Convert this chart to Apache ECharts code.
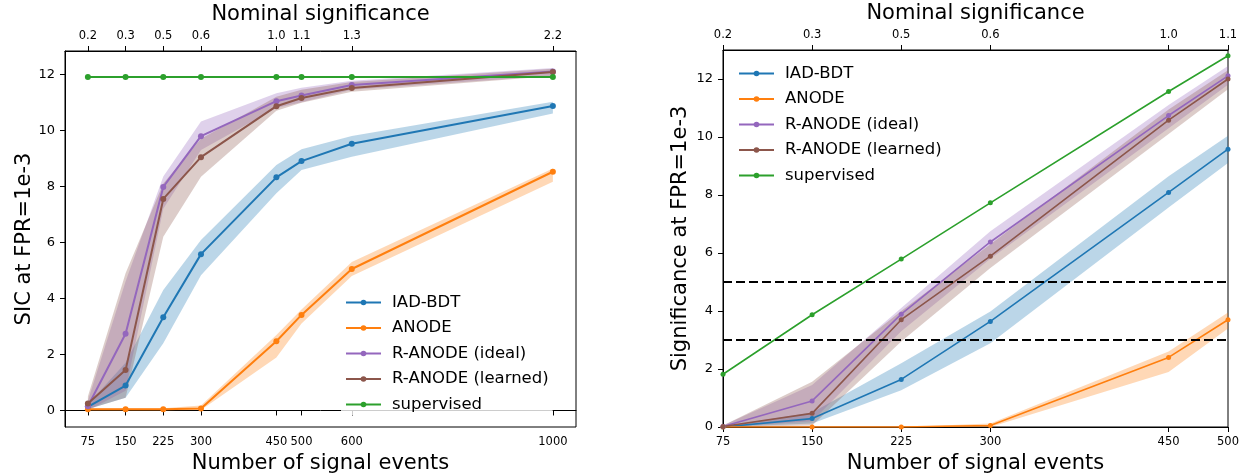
<!DOCTYPE html>
<html>
<head>
<meta charset="utf-8">
<script src="https://cdn.jsdelivr.net/npm/echarts@6/dist/echarts.min.js"></script>
<style>
  html, body { margin: 0; padding: 0; background: #fff; }
  #chart { width: 1246px; height: 475px; }
</style>
</head>
<body>
<div id="chart"></div>
<script>
// Signal counts and their nominal significance (top axes)
const N_LEFT = [75, 150, 225, 300, 450, 500, 600, 1000];
const NOMINAL_LEFT = ['0.2', '0.3', '0.5', '0.6', '1.0', '1.1', '1.3', '2.2'];
const N_RIGHT = [75, 150, 225, 300, 450, 500];
const NOMINAL_RIGHT = ['0.2', '0.3', '0.5', '0.6', '1.0', '1.1'];
const Y_TICKS = [0, 2, 4, 6, 8, 10, 12];

// Left panel: SIC at FPR=1e-3 (median with lower / upper band)
const sicIadBdt     = [0.13, 0.89, 3.33, 5.58, 8.32, 8.90, 9.52, 10.87];
const sicIadBdtLo   = [0.04, 0.45, 2.40, 4.83, 7.75, 8.58, 9.06, 10.60];
const sicIadBdtHi   = [0.22, 1.70, 4.30, 6.08, 8.76, 9.32, 9.80, 11.02];
const sicAnode      = [0.04, 0.04, 0.04, 0.07, 2.47, 3.41, 5.05, 8.52];
const sicAnodeLo    = [0.00, 0.00, 0.00, 0.02, 1.89, 3.10, 4.80, 8.16];
const sicAnodeHi    = [0.08, 0.08, 0.08, 0.18, 2.69, 3.60, 5.30, 8.64];
const sicIdeal      = [0.15, 2.74, 7.98, 9.79, 11.04, 11.24, 11.62, 12.10];
const sicIdealLo    = [0.00, 0.70, 7.20, 9.30, 10.80, 11.00, 11.45, 11.95];
const sicIdealHi    = [0.35, 4.60, 8.35, 10.31, 11.32, 11.52, 11.77, 12.22];
const sicLearned    = [0.25, 1.44, 7.55, 9.04, 10.86, 11.15, 11.51, 12.08];
const sicLearnedLo  = [0.05, 0.45, 6.20, 8.34, 10.70, 10.98, 11.38, 11.94];
const sicLearnedHi  = [0.50, 4.90, 8.10, 9.70, 11.20, 11.45, 11.72, 12.20];
const sicSupervised = [11.9, 11.9, 11.9, 11.9, 11.9, 11.9, 11.9, 11.9];

// Right panel: significance at FPR=1e-3
const sigIadBdt     = [0.00, 0.29, 1.64, 3.64, 8.09, 9.58];
const sigIadBdtLo   = [0.00, 0.12, 1.27, 2.89, 7.57, 9.10];
const sigIadBdtHi   = [0.02, 0.50, 2.20, 3.98, 8.65, 10.04];
const sigAnode      = [0.00, 0.00, 0.00, 0.05, 2.40, 3.70];
const sigAnodeLo    = [0.00, 0.00, 0.00, 0.00, 1.90, 3.40];
const sigAnodeHi    = [0.00, 0.00, 0.00, 0.12, 2.60, 3.95];
const sigIdeal      = [0.02, 0.90, 3.89, 6.38, 10.74, 12.11];
const sigIdealLo    = [0.00, 0.20, 3.30, 5.80, 10.30, 11.80];
const sigIdealHi    = [0.05, 1.45, 4.10, 6.75, 11.10, 12.45];
const sigLearned    = [0.02, 0.47, 3.70, 5.89, 10.58, 12.00];
const sigLearnedLo  = [0.00, 0.05, 2.95, 5.48, 10.10, 11.65];
const sigLearnedHi  = [0.05, 1.56, 4.00, 6.30, 10.95, 12.30];
const sigSupervised = [1.82, 3.87, 5.79, 7.73, 11.57, 12.80];
const THRESHOLDS = [5, 3];

const NAMES = ['IAD-BDT', 'ANODE', 'R-ANODE (ideal)', 'R-ANODE (learned)', 'supervised'];
const COLORS = {
  'IAD-BDT': '#1f77b4',
  'ANODE': '#ff7f0e',
  'R-ANODE (ideal)': '#9467bd',
  'R-ANODE (learned)': '#8c564b',
  'supervised': '#2ca02c'
};
const FONT = 'DejaVu Sans';

function line(name, xs, ys, axis, width, size) {
  return {
    type: 'line', name: name,
    xAxisIndex: axis.x, yAxisIndex: axis.y,
    data: xs.map((x, i) => [x, ys[i]]),
    symbol: 'circle', symbolSize: size,
    lineStyle: { width: width, color: COLORS[name] },
    itemStyle: { color: COLORS[name] },
    emphasis: { disabled: true },
    animation: false, z: 3
  };
}

function band(name, xs, lo, hi, axis) {
  return {
    type: 'custom', name: name + ' band',
    xAxisIndex: axis.x, yAxisIndex: axis.y,
    data: xs.map((x, i) => [x, lo[i], hi[i]]),
    encode: { x: 0, y: [1, 2] },
    silent: true, animation: false, z: 2,
    renderItem: function (params, api) {
      if (params.dataIndex !== 0) return { type: 'group', children: [] };
      const upper = xs.map((x, i) => api.coord([x, hi[i]]));
      const lower = xs.map((x, i) => api.coord([x, lo[i]])).reverse();
      return {
        type: 'polygon',
        shape: { points: upper.concat(lower) },
        style: { fill: COLORS[name], opacity: 0.3 }
      };
    }
  };
}

function tickAxis(extra) {
  return Object.assign({
    type: 'value',
    splitLine: { show: false },
    axisLine: { show: true, lineStyle: { color: '#000', width: 1 } },
    axisTick: { show: true, length: 5, lineStyle: { color: '#000', width: 1 } },
    nameLocation: 'middle',
    nameTextStyle: { fontFamily: FONT, fontSize: 21, color: '#000' }
  }, extra);
}

function xAxes(gridIndex, xs, nominal, min, max) {
  return [
    tickAxis({
      gridIndex: gridIndex, position: 'bottom', min: min, max: max,
      name: 'Number of signal events', nameGap: 24,
      axisTick: { show: true, length: 5, customValues: xs, lineStyle: { color: '#000' } },
      axisLabel: {
        customValues: xs, fontFamily: FONT, fontSize: 11.5, color: '#000', margin: 9,
        formatter: v => String(v)
      }
    }),
    tickAxis({
      gridIndex: gridIndex, position: 'top', min: min, max: max,
      name: 'Nominal significance', nameGap: 21,
      axisTick: { show: true, length: 5, customValues: xs, lineStyle: { color: '#000' } },
      axisLabel: {
        customValues: xs, fontFamily: FONT, fontSize: 11.5, color: '#000', margin: 9,
        formatter: v => nominal[xs.indexOf(v)]
      }
    })
  ];
}

function yAxis(gridIndex, name, min, max, gap) {
  return tickAxis({
    gridIndex: gridIndex, min: min, max: max,
    name: name, nameGap: gap,
    axisTick: { show: true, length: 5, customValues: Y_TICKS, lineStyle: { color: '#000' } },
    axisLabel: { customValues: Y_TICKS, fontFamily: FONT, fontSize: 13, color: '#000', margin: 10 }
  });
}

function legend(left, top) {
  return {
    data: NAMES, orient: 'vertical', left: left, top: top,
    itemWidth: 35, itemHeight: 7, itemGap: 8.5,
    formatter: name => '{gap|}' + name,
    textStyle: {
      fontFamily: FONT, fontSize: 16.5, color: '#000', lineHeight: 16.5,
      rich: { gap: { width: 6 } }
    },
    selectedMode: false, backgroundColor: 'rgba(255,255,255,0.8)', padding: [2, 4]
  };
}

const L = { x: 0, y: 0 };
const R = { x: 2, y: 1 };

const series = [
  band('IAD-BDT', N_LEFT, sicIadBdtLo, sicIadBdtHi, L),
  line('IAD-BDT', N_LEFT, sicIadBdt, L, 2, 6),
  band('ANODE', N_LEFT, sicAnodeLo, sicAnodeHi, L),
  line('ANODE', N_LEFT, sicAnode, L, 2, 6),
  band('R-ANODE (ideal)', N_LEFT, sicIdealLo, sicIdealHi, L),
  line('R-ANODE (ideal)', N_LEFT, sicIdeal, L, 2, 6),
  band('R-ANODE (learned)', N_LEFT, sicLearnedLo, sicLearnedHi, L),
  line('R-ANODE (learned)', N_LEFT, sicLearned, L, 2, 6),
  line('supervised', N_LEFT, sicSupervised, L, 2, 6),

  band('IAD-BDT', N_RIGHT, sigIadBdtLo, sigIadBdtHi, R),
  line('IAD-BDT', N_RIGHT, sigIadBdt, R, 1.6, 5),
  band('ANODE', N_RIGHT, sigAnodeLo, sigAnodeHi, R),
  line('ANODE', N_RIGHT, sigAnode, R, 1.6, 5),
  band('R-ANODE (ideal)', N_RIGHT, sigIdealLo, sigIdealHi, R),
  line('R-ANODE (ideal)', N_RIGHT, sigIdeal, R, 1.6, 5),
  band('R-ANODE (learned)', N_RIGHT, sigLearnedLo, sigLearnedHi, R),
  line('R-ANODE (learned)', N_RIGHT, sigLearned, R, 1.6, 5),
  line('supervised', N_RIGHT, sigSupervised, R, 1.6, 5)
];

// 5 sigma and 3 sigma reference lines on the right panel
THRESHOLDS.forEach((t, k) => {
  series.push({
    type: 'line', name: 'threshold ' + k,
    xAxisIndex: R.x, yAxisIndex: R.y,
    data: [[N_RIGHT[0], t], [N_RIGHT[N_RIGHT.length - 1], t]],
    symbol: 'none', silent: true, animation: false, z: 4,
    lineStyle: { color: '#000', width: 2, type: [9, 4] }
  });
});

const chart = echarts.init(document.getElementById('chart'), null, { renderer: 'canvas' });
chart.setOption({
  backgroundColor: '#fff',
  animation: false,
  grid: [
    { left: 65, right: 670, top: 51, bottom: 48, show: true, borderColor: '#000', borderWidth: 1, outerBoundsMode: 'none' },
    { left: 723, right: 18, top: 50, bottom: 48, show: true, borderColor: '#000', borderWidth: 1, outerBoundsMode: 'none' }
  ],
  xAxis: xAxes(0, N_LEFT, NOMINAL_LEFT, 29.5, 1046)
    .concat(xAxes(1, N_RIGHT, NOMINAL_RIGHT, 75, 500)),
  yAxis: [
    yAxis(0, 'SIC at FPR=1e-3', -0.59, 12.83, 24),
    yAxis(1, 'Significance at FPR=1e-3', 0, 13, 32)
  ],
  legend: [legend(341, 292), legend(734, 63)],
  series: series
});
</script>
</body>
</html>
